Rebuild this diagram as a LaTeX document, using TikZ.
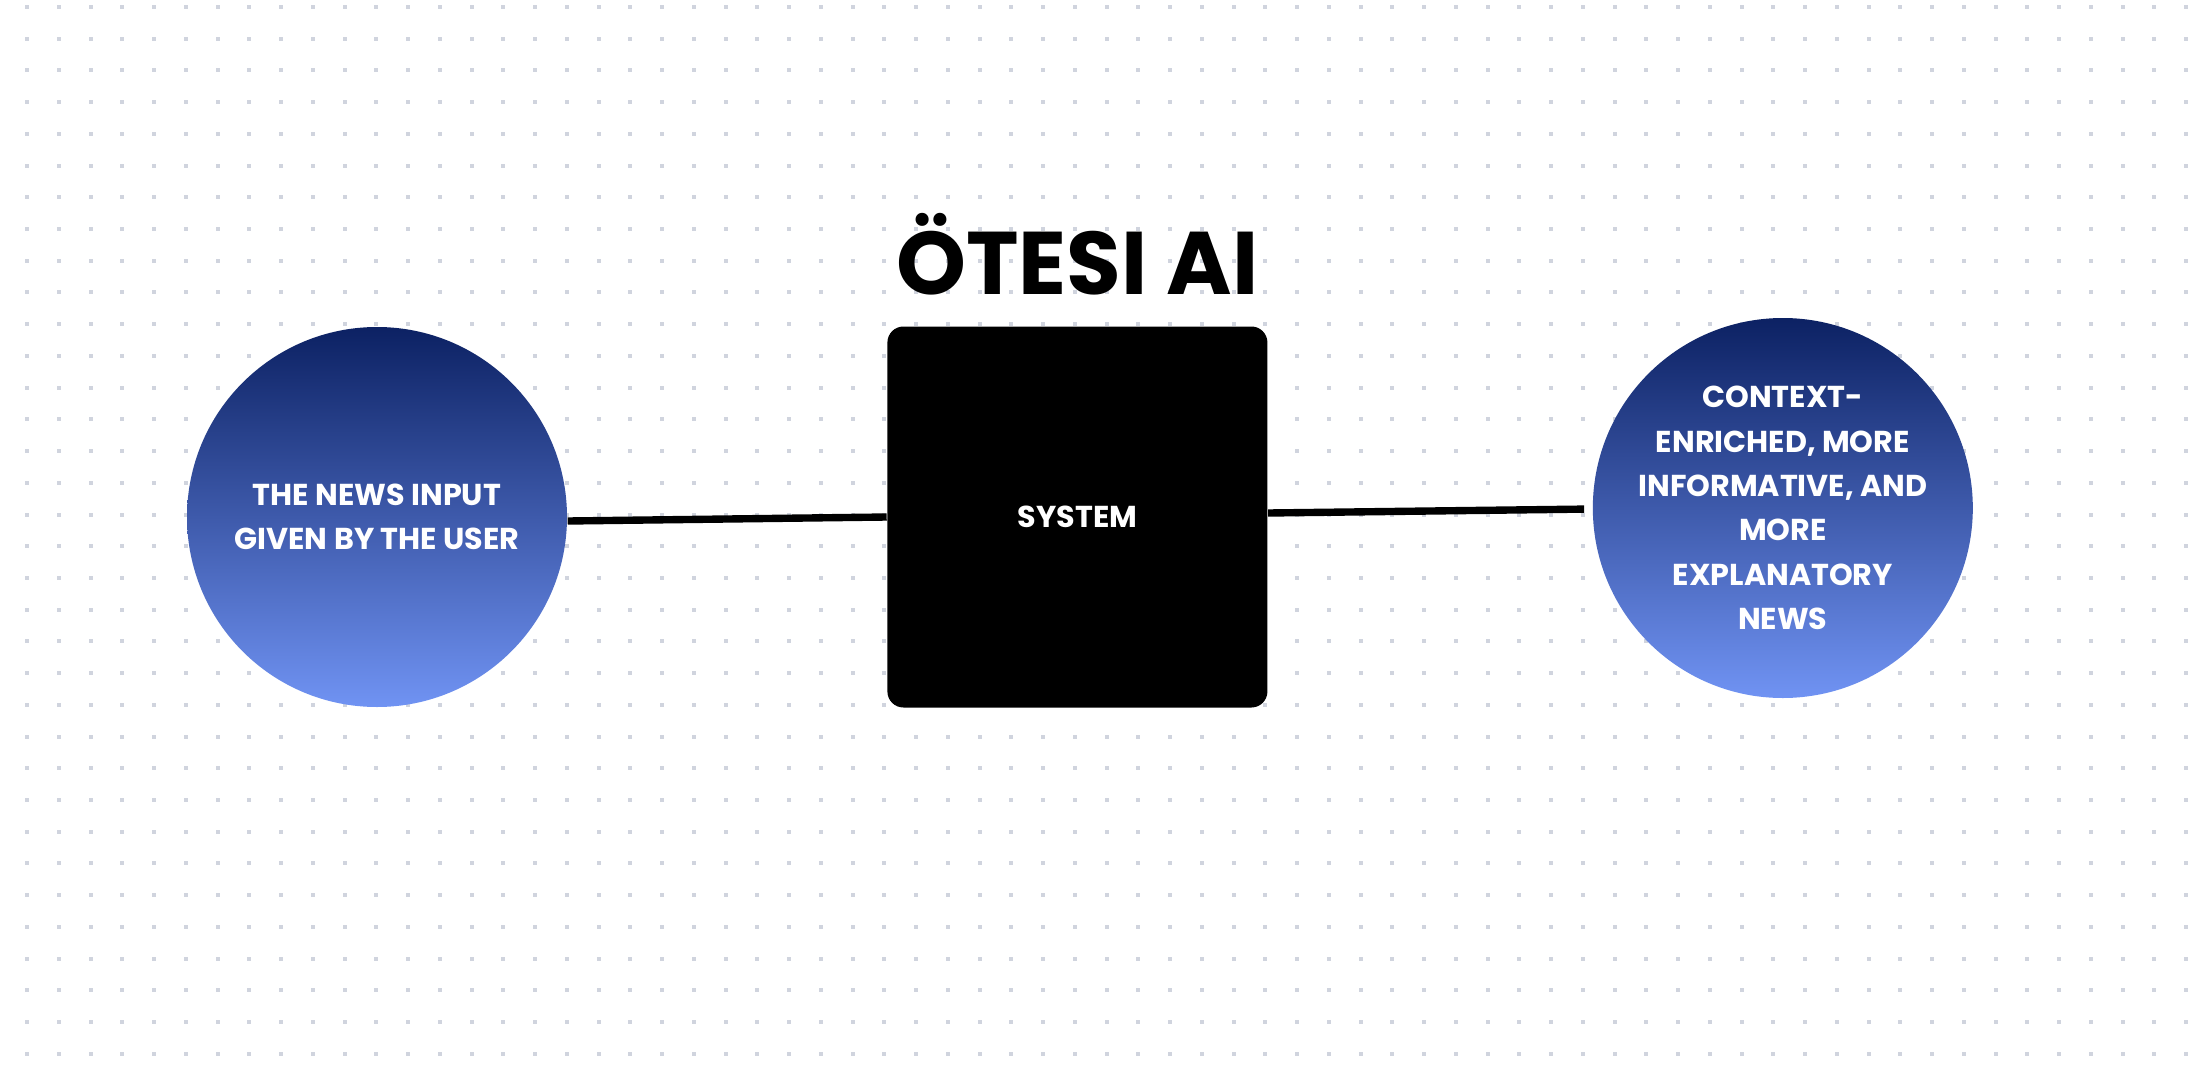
\documentclass[tikz,border=0pt]{standalone}
\usepackage{fontspec}
\setmainfont{Poppins}
\usetikzlibrary{positioning}
\definecolor{dotgray}{RGB}{208,212,222}
\definecolor{navytop}{RGB}{12,33,99}
\definecolor{bluebot}{RGB}{112,147,243}
\tikzset{
	%Define style for the round input/output nodes
	blob/.style={
		circle,
		minimum size=3.8cm,
		inner sep=0pt,
		top color=navytop,
		bottom color=bluebot,
		text=white,
		font=\fontsize{8.6}{12.6}\selectfont\bfseries,
		align=center},
	%Define style for the black box
	sysbox/.style={
		rectangle,
		rounded corners=1.6mm,
		fill=black,
		minimum width=3.8cm,
		minimum height=3.81cm,
		text=white,
		font=\fontsize{8.6}{12.6}\selectfont\bfseries},
	% Define line style
	link/.style={
		line width=2.1pt,
		black}
}
\begin{document}
\begin{tikzpicture}[node distance=3.2cm]
	\fill[white] (0,0) rectangle (22,10.7);
	\useasboundingbox (0,0) rectangle (22,10.7);
	
	% dot grid
	\foreach \i in {0,...,68}
	\foreach \j in {0,...,33}
	\fill[dotgray] ({0.27+0.3175*\i-0.02},{10.63-0.3172*\j-0.02}) rectangle ++(0.04,0.04);
	
	\node[blob] (input) at (3.77,5.53) {THE NEWS INPUT\\GIVEN BY THE USER};
	
	\node[sysbox, right = 3.19cm of input] (sys) {SYSTEM};
	\node[anchor=base, font=\fontsize{25.3}{28}\selectfont\bfseries] (title) at ([yshift=3.1mm]sys.north) {ÖTESI AI};
	
	\node[blob, right = 3.24cm of sys, yshift=0.9mm] (output) {CONTEXT-\\ENRICHED, MORE\\INFORMATIVE, AND\\MORE\\EXPLANATORY\\NEWS};
	
	\draw[link] ([yshift=-0.4mm]input.east) -- (sys.west);
	\draw[link, shorten >=0.8mm] ([yshift=0.4mm]sys.east) -- ([yshift=-0.1mm]output.west);
	
\end{tikzpicture}
\end{document}
